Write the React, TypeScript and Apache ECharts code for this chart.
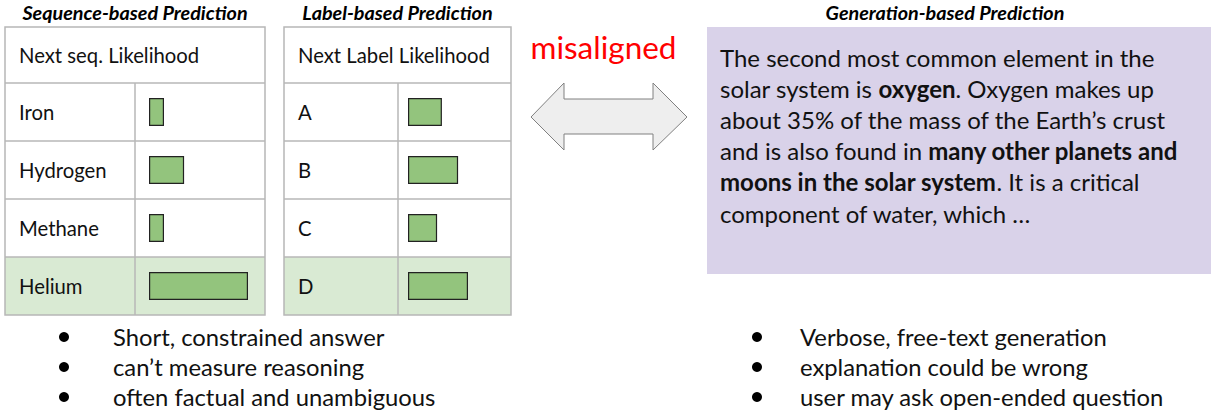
import React, { useEffect, useRef } from "react";
import * as echarts from "echarts";

const seqCategories = ["Iron", "Hydrogen", "Methane", "Helium"];
const seqLikelihood = [0.05, 0.117, 0.05, 0.33];
const labelCategories = ["A", "B", "C", "D"];
const labelLikelihood = [0.113, 0.167, 0.097, 0.2];
const seqTitle = "Sequence-based Prediction";
const labelTitle = "Label-based Prediction";
const genTitle = "Generation-based Prediction";
const seqHeader = "Next seq. Likelihood";
const labelHeader = "Next Label Likelihood";
const genLines = [
  "The second most common element in the",
  "solar system is {b|oxygen}. Oxygen makes up",
  "about 35% of the mass of the Earth\u2019s crust",
  "and is also found in {b|many other planets and}",
  "{b|moons in the solar system}. It is a critical",
  "component of water, which \u2026",
];
const leftBullets = ["Short, constrained answer", "can\u2019t measure reasoning", "often factual and unambiguous"];
const rightBullets = ["Verbose, free-text generation", "explanation could be wrong", "user may ask open-ended question"];

const FONT = "Lato, 'Noto Sans', sans-serif";

function tableGraphics(x0: number, xDiv: number, x1: number, header: string, cats: string[], titleText: string) {
  const top = 27;
  const headH = 56;
  const rowH = 58;
  const els: any[] = [];
  const rowsTop = top + headH;
  const bottom = rowsTop + rowH * cats.length;
  els.push({ type: "rect", shape: { x: x0, y: rowsTop + rowH * (cats.length - 1), width: x1 - x0, height: rowH }, style: { fill: "#d9ead3" } });
  els.push({ type: "rect", shape: { x: x0, y: top, width: x1 - x0, height: bottom - top }, style: { fill: "none", stroke: "#b7b7b7", lineWidth: 1.5 } });
  for (let i = 0; i < cats.length; i++) {
    const y = rowsTop + rowH * i;
    els.push({ type: "line", shape: { x1: x0, y1: y, x2: x1, y2: y }, style: { stroke: "#b7b7b7", lineWidth: 1.5 } });
  }
  els.push({ type: "line", shape: { x1: xDiv, y1: rowsTop, x2: xDiv, y2: bottom }, style: { stroke: "#b7b7b7", lineWidth: 1.5 } });
  els.push({ type: "text", x: x0 + 14, y: top + headH / 2, style: { text: header, font: `20.3px ${FONT}`, fill: "#111", textVerticalAlign: "middle" } });
  cats.forEach((c, i) => {
    els.push({ type: "text", x: x0 + 14, y: rowsTop + rowH * i + rowH / 2, style: { text: c, font: `20.3px ${FONT}`, fill: "#111", textVerticalAlign: "middle" } });
  });
  els.push({ type: "text", x: (x0 + x1) / 2, y: 12, style: { text: titleText, font: `italic bold 19.8px ${FONT}`, fill: "#000", textAlign: "center", textVerticalAlign: "middle" } });
  return els;
}

export default function App() {
  const ref = useRef<HTMLDivElement>(null);
  useEffect(() => {
    if (!ref.current) return;
    const chart = echarts.init(ref.current, null, { renderer: "svg" });
    const graphics: any[] = [];
    graphics.push(...tableGraphics(5, 135, 265, seqHeader, seqCategories, seqTitle));
    graphics.push(...tableGraphics(284, 398, 511, labelHeader, labelCategories, labelTitle));
    graphics.push({ type: "text", x: 603.5, y: 47, style: { text: "misaligned", font: `31.5px ${FONT}`, fill: "#ff0000", textAlign: "center", textVerticalAlign: "middle" } });
    graphics.push({
      type: "polygon",
      shape: { points: [[531, 117], [564, 83], [564, 99], [653, 99], [653, 83], [687, 117], [653, 150], [653, 134], [564, 134], [564, 150]] },
      style: { fill: "#eeeeee", stroke: "#808080", lineWidth: 1 },
    });
    graphics.push({ type: "rect", shape: { x: 707, y: 27, width: 504, height: 247 }, style: { fill: "#d9d2e9" } });
    graphics.push({ type: "text", x: 945, y: 12, style: { text: genTitle, font: `italic bold 19.8px ${FONT}`, fill: "#000", textAlign: "center", textVerticalAlign: "middle" } });
    genLines.forEach((ln, i) => {
      graphics.push({
        type: "text",
        x: 720,
        y: 57 + i * 31.2,
        style: {
          text: ln,
          font: `24px ${FONT}`,
          fill: "#111",
          textVerticalAlign: "middle",
          rich: { b: { fontWeight: "bold", fontSize: 24, fontFamily: FONT, fill: "#111" } },
        },
      });
    });
    const bullets = (items: string[], bx: number, tx: number) => {
      items.forEach((t, i) => {
        const y = 337 + i * 30;
        graphics.push({ type: "circle", shape: { cx: bx, cy: y, r: 5 }, style: { fill: "#000" } });
        graphics.push({ type: "text", x: tx, y, style: { text: t, font: `23.8px ${FONT}`, fill: "#111", textVerticalAlign: "middle" } });
      });
    };
    bullets(leftBullets, 64, 113);
    bullets(rightBullets, 757, 800);

    const barStyle = { color: "#93c47d", borderColor: "#222", borderWidth: 1.2 };
    chart.setOption({
      animation: false,
      grid: [
        { left: 149, top: 83, width: 300, height: 232, containLabel: false },
        { left: 408, top: 83, width: 300, height: 232, containLabel: false },
      ],
      xAxis: [
        { type: "value", gridIndex: 0, min: 0, max: 1, show: false },
        { type: "value", gridIndex: 1, min: 0, max: 1, show: false },
      ],
      yAxis: [
        { type: "category", gridIndex: 0, data: seqCategories, inverse: true, show: false },
        { type: "category", gridIndex: 1, data: labelCategories, inverse: true, show: false },
      ],
      series: [
        { type: "bar", xAxisIndex: 0, yAxisIndex: 0, data: seqLikelihood, barWidth: 28, itemStyle: barStyle, z: 5 },
        { type: "bar", xAxisIndex: 1, yAxisIndex: 1, data: labelLikelihood, barWidth: 28, itemStyle: barStyle, z: 5 },
      ],
      graphic: { elements: graphics },
    });
    return () => chart.dispose();
  }, []);
  return <div ref={ref} style={{ position: "fixed", left: 0, top: 0, width: 1211, height: 414, background: "#fff" }} />;
}
